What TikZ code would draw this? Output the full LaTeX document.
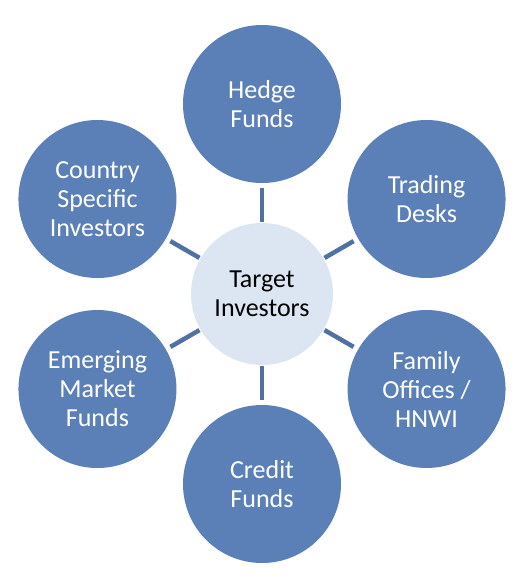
\documentclass[tikz,border=0pt]{standalone}
\usepackage{fontspec}
\setmainfont{Carlito}
\usetikzlibrary{positioning, calc}

\definecolor{outerblue}{RGB}{91,128,184}
\definecolor{lineblue}{RGB}{79,113,163}
\definecolor{centerfill}{RGB}{220,230,242}

\begin{document}
\begin{tikzpicture}[
    x=1pt, y=-1pt,
    hub/.style={circle, fill=centerfill, minimum size=142pt, inner sep=0pt, align=center, font=\fontsize{26}{29}\selectfont},
    spoke/.style={circle, fill=outerblue, minimum size=158pt, inner sep=0pt, align=center, text=white, font=\fontsize{26}{29}\selectfont},
    link/.style={draw=lineblue, line width=4.5pt, shorten <=1pt, shorten >=5pt},
]
\useasboundingbox (0,0) rectangle (520,576);

\node[hub] (target) at (262,294) {Target\\Investors};

% y axis points down, so angles run clockwise
\node[spoke] (hedge)    at ($(target)+(-90:190)$) {Hedge\\Funds};
\node[spoke] (trading)  at ($(target)+(-30:190)$) {Trading\\Desks};
\node[spoke] (family)   at ($(target)+(30:190)$)  {Family\\Offices /\\HNWI};
\node[spoke] (credit)   at ($(target)+(90:190)$)  {Credit\\Funds};
\node[spoke] (emerging) at ($(target)+(150:190)$) {Emerging\\Market\\Funds};
\node[spoke] (country)  at ($(target)+(210:190)$) {Country\\Specific\\Investors};

\foreach \o in {hedge, trading, family, credit, emerging, country}
    \draw[link] (target) -- (\o);

\end{tikzpicture}
\end{document}
